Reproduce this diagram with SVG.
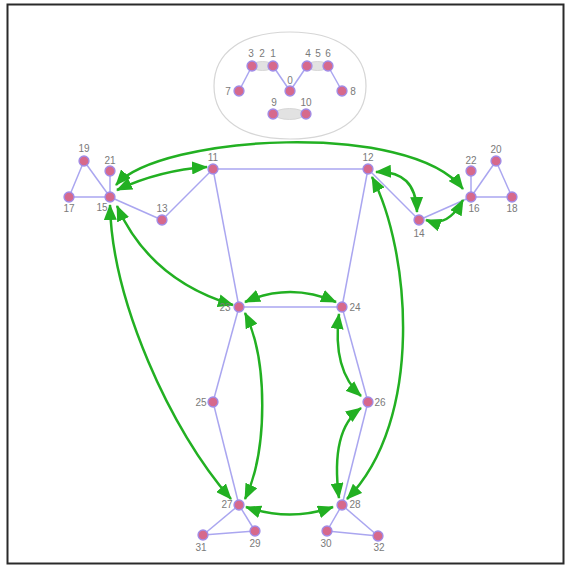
<svg xmlns="http://www.w3.org/2000/svg" width="565" height="566" viewBox="0 0 565 566">
  <style>
    .bone { stroke: #aaa6f0; stroke-width: 1.5; fill: none; }
    .link { stroke: #22b022; stroke-width: 2.5; fill: none; marker-start: url(#ah); marker-end: url(#ah); }
    .kp { fill: #d6698c; stroke: #a08ce8; stroke-width: 1.3; }
    .pad { fill: #e2e2e2; stroke: #cfcfcf; stroke-width: 0.8; }
    .lbl { font-family: "Liberation Sans", Arial, sans-serif; font-size: 10px; fill: #7a7a7a; text-anchor: middle; }
  </style>
  <defs>
    <marker id="ah" viewBox="0 0 16 13" refX="15" refY="6.5" markerWidth="16" markerHeight="13" markerUnits="userSpaceOnUse" orient="auto-start-reverse">
      <path d="M0,0 L16,6.5 L0,13 z" fill="#22b022"/>
    </marker>
  </defs>

  <rect x="0" y="0" width="565" height="566" fill="#ffffff"/>
  <rect x="7.5" y="4.5" width="556" height="559" fill="none" stroke="#2a2a2a" stroke-width="2"/>

  <!-- head outline -->
  <path d="M214,86 C214,52 242.9,32 290,32 C337.1,32 366,52 366,86 C366,120 337.1,139 290,139 C242.9,139 214,120 214,86 z" fill="none" stroke="#d6d6d6" stroke-width="1.2"/>

  <g id="connectors">
    <!-- skeleton bones -->
    <g id="bones">
      <line class="bone" x1="239" y1="91" x2="252" y2="66"/>
      <line class="bone" x1="252" y1="66" x2="273" y2="66"/>
      <line class="bone" x1="273" y1="66" x2="290" y2="91"/>
      <line class="bone" x1="290" y1="91" x2="307" y2="66"/>
      <line class="bone" x1="307" y1="66" x2="328" y2="66"/>
      <line class="bone" x1="328" y1="66" x2="342" y2="91"/>
      <line class="bone" x1="273" y1="114" x2="306" y2="114"/>

      <line class="bone" x1="213" y1="169" x2="368" y2="169"/>
      <line class="bone" x1="213" y1="169" x2="162" y2="220"/>
      <line class="bone" x1="162" y1="220" x2="110" y2="197"/>
      <line class="bone" x1="110" y1="197" x2="69" y2="197"/>
      <line class="bone" x1="110" y1="197" x2="84" y2="161"/>
      <line class="bone" x1="69" y1="197" x2="84" y2="161"/>
      <line class="bone" x1="110" y1="197" x2="110" y2="171"/>
      <line class="bone" x1="213" y1="169" x2="239" y2="307"/>
      <line class="bone" x1="368" y1="169" x2="342" y2="307"/>
      <line class="bone" x1="239" y1="307" x2="342" y2="307"/>
      <line class="bone" x1="368" y1="169" x2="419" y2="220"/>
      <line class="bone" x1="419" y1="220" x2="471" y2="197"/>
      <line class="bone" x1="471" y1="197" x2="512" y2="197"/>
      <line class="bone" x1="471" y1="197" x2="496" y2="161"/>
      <line class="bone" x1="512" y1="197" x2="496" y2="161"/>
      <line class="bone" x1="471" y1="197" x2="471" y2="171"/>
      <line class="bone" x1="239" y1="307" x2="213" y2="402"/>
      <line class="bone" x1="213" y1="402" x2="239" y2="505"/>
      <line class="bone" x1="342" y1="307" x2="368" y2="402"/>
      <line class="bone" x1="368" y1="402" x2="342" y2="505"/>
      <line class="bone" x1="239" y1="505" x2="255" y2="531"/>
      <line class="bone" x1="239" y1="505" x2="203" y2="535"/>
      <line class="bone" x1="255" y1="531" x2="203" y2="535"/>
      <line class="bone" x1="342" y1="505" x2="327" y2="531"/>
      <line class="bone" x1="342" y1="505" x2="378" y2="536"/>
      <line class="bone" x1="327" y1="531" x2="378" y2="536"/>
    </g>

    <!-- face pads -->
    <ellipse class="pad" cx="262.5" cy="66" rx="11" ry="4.5"/>
    <ellipse class="pad" cx="317.5" cy="66" rx="11" ry="4.5"/>
    <ellipse class="pad" cx="289.5" cy="114" rx="15" ry="5.5"/>

    <!-- relation arrows -->
    <g id="links">
      <path class="link" d="M117,190 Q160,170 207,167"/>
      <path class="link" d="M116,185 C160,135 410,120 463,189"/>
      <path class="link" d="M376,172 Q416,170 417,212"/>
      <path class="link" d="M426,220 Q448,228 463,200"/>
      <path class="link" d="M117,206 Q150,280 233,305"/>
      <path class="link" d="M110,205 C112,300 170,430 231,499"/>
      <path class="link" d="M245,302 Q290,282 336,302"/>
      <path class="link" d="M245,313 C268,360 268,450 245,499"/>
      <path class="link" d="M339,314 Q332,370 361,396"/>
      <path class="link" d="M361,408 Q330,430 339,498"/>
      <path class="link" d="M372,177 C410,250 425,420 347,499"/>
      <path class="link" d="M246,507 Q290,522 333,507"/>
    </g>
  </g>

  <!-- face keypoints -->
  <g id="node-0"><circle class="kp" cx="290" cy="91" r="5"/><text class="lbl" x="290" y="84">0</text></g>
  <g id="node-1"><circle class="kp" cx="273" cy="66" r="5"/><text class="lbl" x="273" y="57">1</text></g>
  <g id="node-2"><text class="lbl" x="262" y="57">2</text></g>
  <g id="node-3"><circle class="kp" cx="252" cy="66" r="5"/><text class="lbl" x="251" y="57">3</text></g>
  <g id="node-4"><circle class="kp" cx="307" cy="66" r="5"/><text class="lbl" x="308" y="57">4</text></g>
  <g id="node-5"><text class="lbl" x="318" y="57">5</text></g>
  <g id="node-6"><circle class="kp" cx="328" cy="66" r="5"/><text class="lbl" x="328" y="57">6</text></g>
  <g id="node-7"><circle class="kp" cx="239" cy="91" r="5"/><text class="lbl" x="228" y="95">7</text></g>
  <g id="node-8"><circle class="kp" cx="342" cy="91" r="5"/><text class="lbl" x="353" y="95">8</text></g>
  <g id="node-9"><circle class="kp" cx="273" cy="114" r="5"/><text class="lbl" x="274" y="106">9</text></g>
  <g id="node-10"><circle class="kp" cx="306" cy="114" r="5"/><text class="lbl" x="306" y="106">10</text></g>

  <!-- body keypoints -->
  <g id="node-11"><circle class="kp" cx="213" cy="169" r="5"/><text class="lbl" x="213" y="161">11</text></g>
  <g id="node-12"><circle class="kp" cx="368" cy="169" r="5"/><text class="lbl" x="368" y="161">12</text></g>
  <g id="node-13"><circle class="kp" cx="162" cy="220" r="5"/><text class="lbl" x="162" y="212">13</text></g>
  <g id="node-14"><circle class="kp" cx="419" cy="220" r="5"/><text class="lbl" x="419" y="237">14</text></g>
  <g id="node-15"><circle class="kp" cx="110" cy="197" r="5"/><text class="lbl" x="102" y="211">15</text></g>
  <g id="node-16"><circle class="kp" cx="471" cy="197" r="5"/><text class="lbl" x="474" y="212">16</text></g>
  <g id="node-17"><circle class="kp" cx="69" cy="197" r="5"/><text class="lbl" x="69" y="212">17</text></g>
  <g id="node-18"><circle class="kp" cx="512" cy="197" r="5"/><text class="lbl" x="512" y="212">18</text></g>
  <g id="node-19"><circle class="kp" cx="84" cy="161" r="5"/><text class="lbl" x="84" y="152">19</text></g>
  <g id="node-20"><circle class="kp" cx="496" cy="161" r="5"/><text class="lbl" x="496" y="153">20</text></g>
  <g id="node-21"><circle class="kp" cx="110" cy="171" r="5"/><text class="lbl" x="110" y="164">21</text></g>
  <g id="node-22"><circle class="kp" cx="471" cy="171" r="5"/><text class="lbl" x="471" y="164">22</text></g>
  <g id="node-23"><circle class="kp" cx="239" cy="307" r="5"/><text class="lbl" x="225" y="311">23</text></g>
  <g id="node-24"><circle class="kp" cx="342" cy="307" r="5"/><text class="lbl" x="355" y="311">24</text></g>
  <g id="node-25"><circle class="kp" cx="213" cy="402" r="5"/><text class="lbl" x="201" y="406">25</text></g>
  <g id="node-26"><circle class="kp" cx="368" cy="402" r="5"/><text class="lbl" x="380" y="406">26</text></g>
  <g id="node-27"><circle class="kp" cx="239" cy="505" r="5"/><text class="lbl" x="227" y="508">27</text></g>
  <g id="node-28"><circle class="kp" cx="342" cy="505" r="5"/><text class="lbl" x="355" y="508">28</text></g>
  <g id="node-29"><circle class="kp" cx="255" cy="531" r="5"/><text class="lbl" x="255" y="547">29</text></g>
  <g id="node-30"><circle class="kp" cx="327" cy="531" r="5"/><text class="lbl" x="326" y="547">30</text></g>
  <g id="node-31"><circle class="kp" cx="203" cy="535" r="5"/><text class="lbl" x="201" y="551">31</text></g>
  <g id="node-32"><circle class="kp" cx="378" cy="536" r="5"/><text class="lbl" x="379" y="551">32</text></g>
</svg>
